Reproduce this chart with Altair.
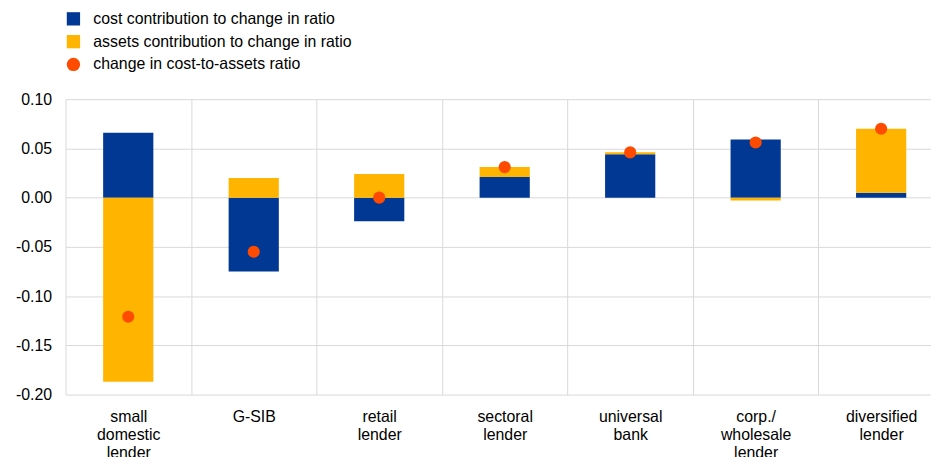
import altair as alt
import pandas as pd

categories = [
    "small domestic lender",
    "G-SIB",
    "retail lender",
    "sectoral lender",
    "universal bank",
    "corp./ wholesale lender",
    "diversified lender",
]
cost_contribution = [0.066, -0.075, -0.024, 0.021, 0.044, 0.059, 0.005]
assets_contribution = [-0.187, 0.020, 0.024, 0.010, 0.002, -0.003, 0.065]
ratio_change = [-0.121, -0.055, 0.000, 0.031, 0.046, 0.056, 0.070]

series_names = [
    "cost contribution to change in ratio",
    "assets contribution to change in ratio",
    "change in cost-to-assets ratio",
]
series_colors = ["#003894", "#FFB400", "#FF4B00"]
y_ticks = [-0.20, -0.15, -0.10, -0.05, 0.0, 0.05, 0.10]

rows = []
for c, v in zip(categories, cost_contribution):
    rows.append({"category": c, "series": series_names[0], "value": v, "ord": 0})
for c, v in zip(categories, assets_contribution):
    rows.append({"category": c, "series": series_names[1], "value": v, "ord": 1})
bars_df = pd.DataFrame(rows)
points_df = pd.DataFrame(
    {"category": categories, "series": series_names[2], "value": ratio_change}
)

FONT = "Liberation Sans"

x_enc = alt.X(
    "category:N",
    sort=categories,
    scale=alt.Scale(paddingInner=0, paddingOuter=0),
    axis=alt.Axis(
        title=None,
        labelAngle=0,
        tickBand="extent",
        ticks=False,
        domain=False,
        grid=True,
        gridColor="#d9d9d9",
        labelExpr="split(datum.label, ' ')",
        labelPadding=14,
        labelLineHeight=18,
        labelFontSize=16,
        labelColor="#000000",
        labelFont=FONT,
    ),
)

y_scale = alt.Scale(domain=[-0.2, 0.1], nice=False)
y_axis = alt.Axis(
    title=None,
    values=y_ticks,
    labelExpr="(datum.value < 0 ? '-' : '') + format(abs(datum.value), '.2f')",
    ticks=False,
    domain=False,
    grid=True,
    gridColor="#d9d9d9",
    labelPadding=14,
    labelFontSize=16,
    labelColor="#000000",
    labelFont=FONT,
)

color_scale = alt.Scale(domain=series_names, range=series_colors)
legend = alt.Legend(
    title=None,
    orient="none",
    legendX=0,
    legendY=-89,
    labelFontSize=16,
    labelFont=FONT,
    labelColor="#000000",
    labelLimit=500,
    symbolSize=180,
    symbolStrokeWidth=0,
    rowPadding=7,
    labelOffset=12,
    padding=0,
)

bars = (
    alt.Chart(bars_df)
    .mark_bar(width=alt.RelativeBandSize(0.4))
    .encode(
        x=x_enc,
        y=alt.Y("value:Q", stack="zero", scale=y_scale, axis=y_axis),
        color=alt.Color("series:N", scale=color_scale, legend=legend),
        order=alt.Order("ord:Q"),
    )
)

points = (
    alt.Chart(points_df)
    .mark_point(filled=True, size=150, opacity=1)
    .encode(
        x=x_enc,
        y=alt.Y("value:Q", scale=y_scale, axis=y_axis),
        color=alt.Color("series:N", scale=color_scale, legend=legend),
        shape=alt.Shape(
            "series:N",
            scale=alt.Scale(domain=series_names, range=["square", "square", "circle"]),
            legend=legend,
        ),
    )
)

chart = (
    alt.layer(bars, points)
    .properties(
        width=886,
        height=298,
        autosize=alt.AutoSizeParams(type="none"),
        padding={"left": 58, "top": 90, "right": -13, "bottom": 61},
    )
    .configure(font=FONT)
    .configure_view(strokeWidth=0)
)

chart.save("out.html", embed_options={"renderer": "svg", "actions": False})
